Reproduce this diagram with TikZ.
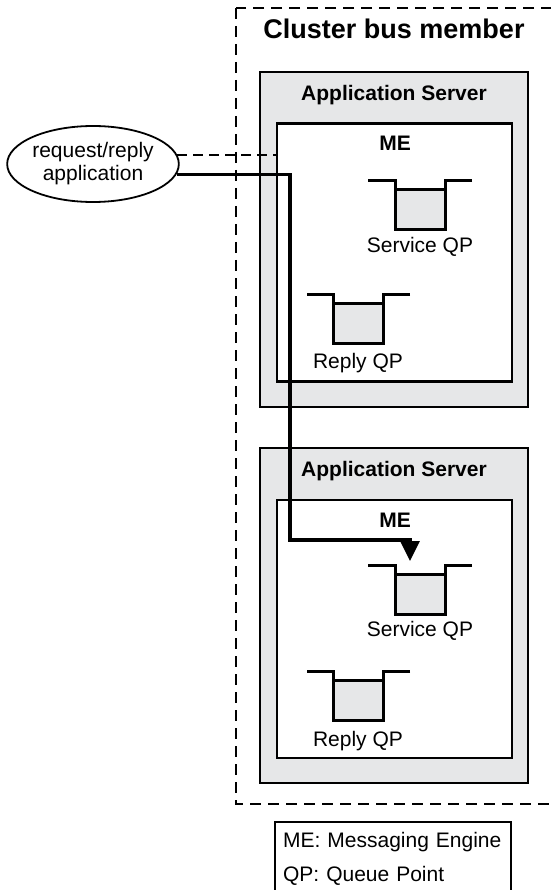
\documentclass[tikz,border=0pt]{standalone}
\usepackage{fontspec}
\setmainfont{Liberation Sans}
\usetikzlibrary{positioning,arrows.meta,shapes.geometric}
\definecolor{asgrey}{HTML}{E6E7E8}

\begin{document}
\begin{tikzpicture}[
  x=1pt,y=-1pt,
  txt/.style={font=\fontsize{21}{23}\selectfont,inner sep=0pt},
  hdr/.style={font=\fontsize{21}{23}\selectfont\bfseries,inner sep=0pt,anchor=base},
  asbox/.style={draw,line width=2.2pt,fill=asgrey,minimum width=268pt,minimum height=335pt,inner sep=0pt},
  mebox/.style={draw,line width=2.2pt,fill=white,minimum width=235pt,minimum height=258pt,inner sep=0pt},
  bucket/.style={draw,line width=3pt,fill=asgrey,minimum width=50pt,minimum height=40pt,inner sep=0pt},
  rim/.style={line width=3pt},
  busline/.style={line width=2.5pt,dash pattern=on 11pt off 7pt},
  flow/.style={line width=3.4pt,-{Triangle[width=19pt,length=20pt]}}]
  \useasboundingbox (0,0) rectangle (550,890);

  % cluster bus member
  \draw[busline] (236,8) rectangle (570,804);
  \node[hdr,font=\fontsize{27}{30}\selectfont\bfseries] (title) at (394,39) {Cluster bus member};

  % first application server
  \node[asbox] (as1) at (394,239.5) {};
  \node[hdr] (as1t) at (394,101) {Application Server};
  \node[mebox] (me1) at (394.5,252.5) {};
  \node[hdr] (me1t) at (395,151) {ME};
  \node[bucket] (svc1) at (420,210) {};
  \draw[rim] (368,181) -- (395,181) -- (395,190);
  \draw[rim] (472,181) -- (445,181) -- (445,190);
  \node[txt,below=6pt of svc1] (svc1t) {Service QP};
  \node[bucket] (rep1) at (358,323.5) {};
  \draw[rim] (307,294) -- (333,294) -- (333,304);
  \draw[rim] (410,294) -- (383,294) -- (383,304);
  \node[txt,below=8pt of rep1] (rep1t) {Reply QP};

  % second application server
  \node[asbox] (as2) at (394,615.5) {};
  \node[hdr] (as2t) at (394,476) {Application Server};
  \node[mebox] (me2) at (394.5,629) {};
  \node[hdr] (me2t) at (395,527) {ME};
  \node[bucket] (svc2) at (420,594) {};
  \draw[rim] (368,565) -- (395,565) -- (395,574);
  \draw[rim] (472,565) -- (445,565) -- (445,574);
  \node[txt,below=6pt of svc2] (svc2t) {Service QP};
  \node[bucket] (rep2) at (358,700.5) {};
  \draw[rim] (307,671) -- (333,671) -- (333,681);
  \draw[rim] (410,671) -- (383,671) -- (383,681);
  \node[txt,below=9pt of rep2] (rep2t) {Reply QP};

  % application and request path
  \node[draw,ellipse,line width=1.8pt,minimum width=162pt,minimum height=76pt,
    inner sep=0pt,align=center,txt] (app) at (93,164) {request/reply\\application};
  \draw[line width=2.2pt,dash pattern=on 10pt off 6pt] (app.6) -- (app.6 -| me1.west);
  \coordinate (bend) at (290,540);
  \coordinate (svc2in) at (410,561);
  \draw[flow] (app.-7) -| (bend) -| (svc2in);

  % legend
  \node[draw,line width=2.2pt,anchor=north west,text width=220pt,align=left,
    inner xsep=8pt,inner ysep=10.5pt,font=\fontsize{21}{34}\selectfont] (legend)
    at (274,821) {ME: Messaging Engine\\QP: Queue Point};
\end{tikzpicture}
\end{document}
